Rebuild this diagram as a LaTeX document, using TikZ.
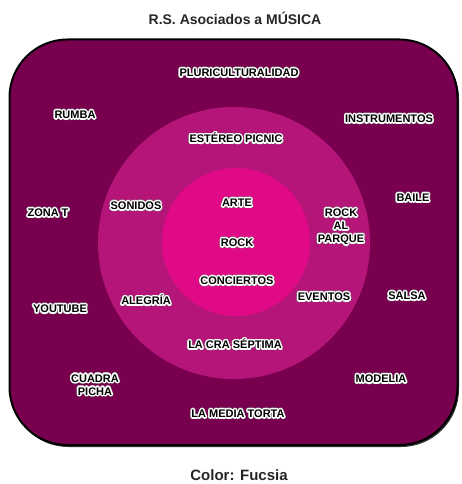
\documentclass[tikz,border=0pt]{standalone}
\usepackage{fontspec}
\setmainfont{Liberation Sans}
\definecolor{outerc}{HTML}{78004F}
\definecolor{midc}{HTML}{B51479}
\definecolor{innerc}{HTML}{E10A86}
\definecolor{haloedge}{HTML}{8A8A8A}
\newdimen\hr
\newcommand\hcopy[3]{\rlap{\hspace*{#1}\raisebox{#2}{#3}}}
\newcommand\ringcopies[2]{\hr=#1\relax
  \hcopy{\hr}{0pt}{#2}\hcopy{-\hr}{0pt}{#2}\hcopy{0pt}{\hr}{#2}\hcopy{0pt}{-\hr}{#2}%
  \hcopy{.7\hr}{.7\hr}{#2}\hcopy{-.7\hr}{.7\hr}{#2}\hcopy{.7\hr}{-.7\hr}{#2}\hcopy{-.7\hr}{-.7\hr}{#2}%
  \hcopy{.92\hr}{.38\hr}{#2}\hcopy{-.92\hr}{.38\hr}{#2}\hcopy{.92\hr}{-.38\hr}{#2}\hcopy{-.92\hr}{-.38\hr}{#2}%
  \hcopy{.38\hr}{.92\hr}{#2}\hcopy{-.38\hr}{.92\hr}{#2}\hcopy{.38\hr}{-.92\hr}{#2}\hcopy{-.38\hr}{-.92\hr}{#2}}
\newcommand\halotext[1]{\leavevmode{\color{haloedge}\ringcopies{1.8pt}{#1}}{\color{white}\ringcopies{1.3pt}{#1}\ringcopies{0.65pt}{#1}}#1}
\tikzset{
  lbl/.style={font=\bfseries\fontsize{11}{13}\selectfont, text=black, align=center, inner sep=0pt},
  ttl/.style={font=\bfseries\fontsize{14}{16}\selectfont, text=black!85, inner sep=0pt},
  captxt/.style={font=\bfseries\fontsize{15}{17}\selectfont, text=black!85, inner sep=0pt}
}
\begin{document}
\begin{tikzpicture}[x=1pt,y=-1pt]
\useasboundingbox (0,0) rectangle (461,484);
\fill[white] (0,0) rectangle (461,484);
% shadow + frame
\fill[black!80, rounded corners=58pt] (10.5,41) rectangle (459,447);
\draw[black, line width=2pt, fill=outerc, rounded corners=58pt] (9.5,39.5) rectangle (457.5,445) ;
\fill[midc] (234,243) circle (136);
\fill[innerc] (236,242) circle (74);
% title and caption
\node[ttl] (title) at (235,18) {R.S. Asociados a MÚSICA};
\node[captxt] (caption) at (239,475) {Color: Fucsia};
% labels
\node[lbl] (pluri) at (239,73) {\halotext{PLURICULTURALIDAD}};
\node[lbl] (rumba) at (75,115) {\halotext{RUMBA}};
\node[lbl] (instr) at (389,119) {\halotext{INSTRUMENTOS}};
\node[lbl] (estereo) at (236,138) {\halotext{ESTÉREO PICNIC}};
\node[lbl] (sonidos) at (136,206) {\halotext{SONIDOS}};
\node[lbl] (arte) at (237,203) {\halotext{ARTE}};
\node[lbl] (rockal) at (341,227) {\halotext{ROCK}\\\halotext{AL}\\\halotext{PARQUE}};
\node[lbl] (baile) at (413,198) {\halotext{BAILE}};
\node[lbl] (zonat) at (48,213) {\halotext{ZONA T}};
\node[lbl] (rock) at (237,243) {\halotext{ROCK}};
\node[lbl] (conc) at (237,281) {\halotext{CONCIERTOS}};
\node[lbl] (eventos) at (324,297) {\halotext{EVENTOS}};
\node[lbl] (salsa) at (407,296) {\halotext{SALSA}};
\node[lbl] (youtube) at (60,309) {\halotext{YOUTUBE}};
\node[lbl] (alegria) at (146,300) {\halotext{ALEGRÍA}};
\node[lbl] (septima) at (235,344) {\halotext{LA CRA SÉPTIMA}};
\node[lbl] (cuadra) at (95,385) {\halotext{CUADRA}\\\halotext{PICHA}};
\node[lbl] (modelia) at (381,379) {\halotext{MODELIA}};
\node[lbl] (torta) at (238,414) {\halotext{LA MEDIA TORTA}};
\end{tikzpicture}
\end{document}
